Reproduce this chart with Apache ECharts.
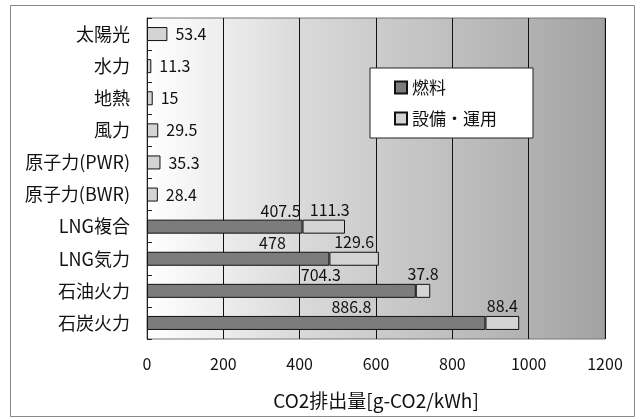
<!DOCTYPE html>
<html>
<head>
<meta charset="utf-8">
<script src="https://cdn.jsdelivr.net/npm/echarts@6/dist/echarts.min.js"></script>
<style>
html, body { margin: 0; padding: 0; background: #fff; }
#chart { width: 640px; height: 419px; }
</style>
</head>
<body>
<div id="chart"></div>
<script>
// 発電方式
var categories = ['太陽光', '水力', '地熱', '風力', '原子力(PWR)', '原子力(BWR)', 'LNG複合', 'LNG気力', '石油火力', '石炭火力']
// 燃料 [g-CO2/kWh]
var fuel = [0, 0, 0, 0, 0, 0, 407.5, 478, 704.3, 886.8]
// 設備・運用 [g-CO2/kWh]
var facility = [53.4, 11.3, 15, 29.5, 35.3, 28.4, 111.3, 129.6, 37.8, 88.4]
var xTicks = [0, 200, 400, 600, 800, 1000, 1200]

var font = '"Noto Sans CJK JP", "DejaVu Sans", sans-serif'
// fuel labels were dragged left in the original, shift them by hand
var fuelShift = {6: -22, 7: -57, 8: -95, 9: -134}
var facShift = {6: 6}

var chart = echarts.init(document.getElementById('chart'))
var option = {
  backgroundColor: '#fff',
  textStyle: { fontFamily: font },
  animation: false,
  graphic: [{
    type: 'rect',
    shape: { x: 10.5, y: 5.5, width: 624, height: 411 },
    style: { fill: 'none', stroke: '#888', lineWidth: 1 },
    silent: true
  }],
  grid: {
    left: 147,
    right: 35,
    top: 18,
    bottom: 80,
    show: true,
    borderColor: '#777',
    borderWidth: 1,
    backgroundColor: new echarts.graphic.LinearGradient(0, 0, 1, 0, [
      { offset: 0, color: '#ffffff' },
      { offset: 0.12, color: '#f2f2f2' },
      { offset: 0.35, color: '#d8d8d8' },
      { offset: 0.6, color: '#c4c4c4' },
      { offset: 0.85, color: '#b0b0b0' },
      { offset: 1, color: '#a2a2a2' }
    ])
  },
  legend: {
    orient: 'vertical',
    left: 370,
    top: 68,
    padding: [11, 36, 11, 24],
    itemGap: 14,
    itemWidth: 12,
    itemHeight: 12,
    icon: 'rect',
    backgroundColor: '#fff',
    borderColor: '#222',
    borderWidth: 1,
    textStyle: { fontSize: 17, color: '#111', fontFamily: font },
    data: ['燃料', '設備・運用']
  },
  xAxis: {
    type: 'value',
    min: 0,
    max: 1200,
    interval: 200,
    name: 'CO2排出量[g-CO2/kWh]',
    nameLocation: 'middle',
    nameGap: 52,
    nameTextStyle: { fontSize: 19, color: '#111', fontFamily: font },
    axisLine: { show: false },
    axisTick: { show: false },
    axisLabel: {
      fontSize: 16,
      color: '#111',
      margin: 17,
      formatter: function (v) { return xTicks.indexOf(v) >= 0 ? String(v) : '' }
    },
    splitLine: { show: true, lineStyle: { color: '#111', width: 1 } }
  },
  yAxis: {
    type: 'category',
    inverse: true,
    data: categories,
    axisLine: { show: true, lineStyle: { color: '#222', width: 1 } },
    axisTick: { show: true, inside: true, length: 5, lineStyle: { color: '#222' } },
    axisLabel: { fontSize: 18, color: '#111', margin: 17, fontFamily: font }
  },
  series: [
    {
      name: '燃料',
      type: 'bar',
      stack: 'co2',
      barWidth: 14,
      itemStyle: { color: '#7c7c7c', borderColor: '#111', borderWidth: 1 },
      data: fuel.map(function (v, i) {
        if (!v) return '-'
        return {
          value: v,
          label: {
            show: true,
            position: ['100%', 0],
            align: 'center',
            verticalAlign: 'bottom',
            offset: [fuelShift[i] || 0, -1],
            fontSize: 16,
            color: '#111'
          }
        }
      })
    },
    {
      name: '設備・運用',
      type: 'bar',
      stack: 'co2',
      barWidth: 14,
      itemStyle: { color: '#d4d4d4', borderColor: '#111', borderWidth: 1 },
      data: facility.map(function (v, i) {
        var above = fuel[i] > 0
        return {
          value: v,
          label: {
            show: true,
            position: above ? 'top' : 'right',
            distance: above ? 2 : 8,
            offset: [facShift[i] || 0, 0],
            fontSize: 16,
            color: '#111'
          }
        }
      })
    }
  ]
}
chart.setOption(option)
</script>
</body>
</html>
